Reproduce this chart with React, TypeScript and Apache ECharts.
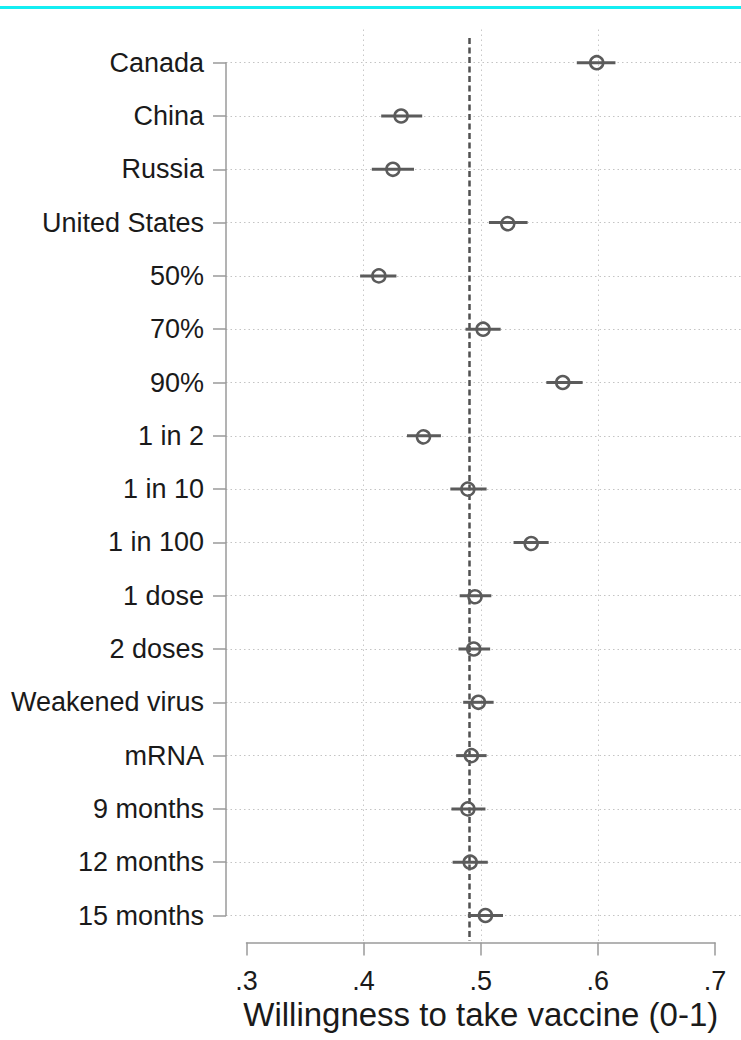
import React, { useEffect, useRef } from "react";
import * as echarts from "echarts";

const categories = [
  "Canada",
  "China",
  "Russia",
  "United States",
  "50%",
  "70%",
  "90%",
  "1 in 2",
  "1 in 10",
  "1 in 100",
  "1 dose",
  "2 doses",
  "Weakened virus",
  "mRNA",
  "9 months",
  "12 months",
  "15 months",
];

const estimates = [0.599, 0.432, 0.425, 0.523, 0.413, 0.502, 0.570, 0.451, 0.489, 0.543, 0.495, 0.494, 0.498, 0.492, 0.489, 0.491, 0.504];
const ciLow = [0.582, 0.415, 0.407, 0.507, 0.397, 0.487, 0.556, 0.437, 0.474, 0.528, 0.482, 0.481, 0.485, 0.479, 0.475, 0.476, 0.489];
const ciHigh = [0.615, 0.450, 0.443, 0.540, 0.428, 0.517, 0.587, 0.466, 0.505, 0.558, 0.509, 0.508, 0.511, 0.505, 0.504, 0.506, 0.519];

const referenceLine = 0.49;
const gridTicks = [0.4, 0.5, 0.6];
const xTickValues = [0.3, 0.4, 0.5, 0.6, 0.7];
const xTickLabels = [".3", ".4", ".5", ".6", ".7"];
const xTitle = "Willingness to take vaccine (0-1)";

const FONT = '"Liberation Sans", Arial, Helvetica, sans-serif';
const AXIS_GRAY = "#9a9a9a";
const MARK_GRAY = "#5b5b5b";
const TEXT = "#1a1a1a";

export default function App() {
  const ref = useRef<HTMLDivElement>(null);

  useEffect(() => {
    const chart = echarts.init(ref.current!, null, { renderer: "svg" });

    const pxPerUnit = 1171.25;
    const plotLeft = 226;
    const axisStartPx = 246.5;
    const xMin = 0.3 - (axisStartPx - plotLeft) / pxPerUnit;
    const xMax = xMin + (741 - plotLeft) / pxPerUnit;

    const option: any = {
      animation: false,
      backgroundColor: "#ffffff",
      textStyle: { fontFamily: FONT },
      graphic: [
        {
          type: "rect",
          shape: { x: 0, y: 6, width: 741, height: 3 },
          style: { fill: "#14eef2" },
          silent: true,
        },
      ],
      grid: [
        { left: 226, right: 0, top: 28, height: 913 },
        { left: 226, right: 0, top: 62.7, height: 852.8 },
        { left: 246.5, width: 468.5, top: 941.5, height: 1 },
      ],
      xAxis: [
        { gridIndex: 0, type: "value", min: xMin, max: xMax, show: false },
        { gridIndex: 1, type: "value", min: xMin, max: xMax, show: false },
        {
          gridIndex: 2,
          type: "value",
          min: 0.3,
          max: 0.7,
          interval: 0.1,
          axisLine: { show: true, lineStyle: { color: AXIS_GRAY, width: 1.5 } },
          axisTick: { show: true, length: 13, lineStyle: { color: AXIS_GRAY, width: 1.5 } },
          axisLabel: {
            show: true,
            showMinLabel: true,
            showMaxLabel: true,
            fontSize: 27,
            color: TEXT,
            fontFamily: FONT,
            margin: 25,
            formatter: (v: number) => {
              const i = xTickValues.findIndex((t) => Math.abs(t - v) < 1e-6);
              return i >= 0 ? xTickLabels[i] : "";
            },
          },
          splitLine: { show: false },
          name: xTitle,
          nameLocation: "middle",
          nameGap: 55,
          nameTextStyle: { fontSize: 33, color: TEXT, fontFamily: FONT },
        },
      ],
      yAxis: [
        { gridIndex: 0, type: "value", min: 0, max: 1, show: false },
        {
          gridIndex: 1,
          type: "category",
          data: categories,
          inverse: true,
          boundaryGap: false,
          axisLine: { show: true, lineStyle: { color: AXIS_GRAY, width: 1.5 } },
          axisTick: { show: true, length: 13, lineStyle: { color: AXIS_GRAY, width: 1.5 } },
          axisLabel: {
            show: true,
            interval: 0,
            fontSize: 27,
            color: TEXT,
            fontFamily: FONT,
            margin: 22,
          },
          splitLine: {
            show: true,
            interval: 0,
            lineStyle: { color: "#c4c4c4", width: 1, type: [1.5, 3] },
          },
        },
        { gridIndex: 2, type: "value", show: false },
      ],
      series: [
        {
          type: "line",
          xAxisIndex: 0,
          yAxisIndex: 0,
          data: [],
          silent: true,
          markLine: {
            silent: true,
            symbol: ["none", "none"],
            label: { show: false },
            lineStyle: { color: "#c8c8c8", width: 1, type: [1.5, 3.5] },
            data: gridTicks.map((v) => ({ xAxis: v })),
          },
        },
        {
          type: "line",
          xAxisIndex: 0,
          yAxisIndex: 0,
          data: [],
          silent: true,
          z: 5,
          markLine: {
            silent: true,
            symbol: ["none", "none"],
            label: { show: false },
            lineStyle: { color: "#505050", width: 2.5, type: [6, 3.5] },
            data: [
              [
                { xAxis: referenceLine, yAxis: 0.989 },
                { xAxis: referenceLine, yAxis: 0 },
              ],
            ],
          },
        },
        {
          type: "custom",
          xAxisIndex: 1,
          yAxisIndex: 1,
          z: 10,
          data: categories.map((_, i) => [ciLow[i], ciHigh[i], estimates[i], i]),
          encode: { x: [0, 1, 2], y: 3 },
          renderItem: (params: any, api: any) => {
            const y = api.value(3);
            const a = api.coord([api.value(0), y]);
            const b = api.coord([api.value(1), y]);
            const c = api.coord([api.value(2), y]);
            return {
              type: "group",
              children: [
                {
                  type: "line",
                  shape: { x1: a[0], y1: a[1], x2: b[0], y2: b[1] },
                  style: { stroke: MARK_GRAY, lineWidth: 3 },
                },
                {
                  type: "circle",
                  shape: { cx: c[0], cy: c[1], r: 6.5 },
                  style: { stroke: MARK_GRAY, lineWidth: 2.5, fill: "none" },
                },
              ],
            };
          },
        },
      ],
    };

    chart.setOption(option);
    return () => chart.dispose();
  }, []);

  return (
    <div
      ref={ref}
      style={{ position: "fixed", left: 0, top: 0, width: 741, height: 1040, background: "#fff" }}
    />
  );
}
